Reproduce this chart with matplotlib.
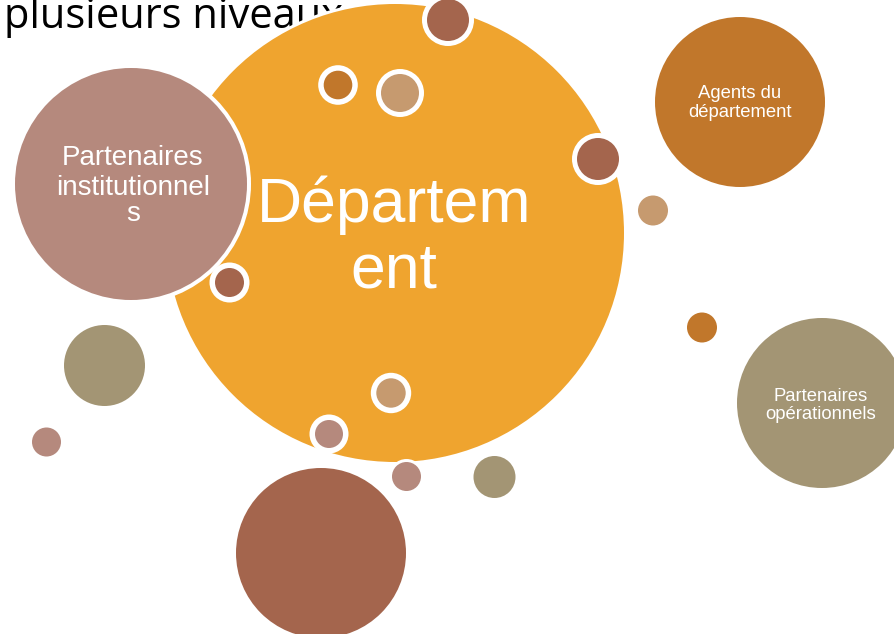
import matplotlib.pyplot as plt
from matplotlib.patches import Circle

# bubbles: centre x, centre y (pixels, y down), radius, colour, white rim width
ORANGE = "#EFA42F"
PINK = "#B5897D"
BROWN = "#A4654D"
RUST = "#C1772B"
TAN = "#C69A6F"
OLIVE = "#A39574"

bubble_x = [395, 131, 740, 822, 321, 104.5, 46.5, 494.5, 406.5, 653, 702,
            448, 338, 400, 598, 229.5, 391, 329]
bubble_y = [233, 184, 102, 403, 553, 365.5, 442, 477, 476.5, 210.5, 327.5,
            20, 85, 93, 159, 282.5, 393, 434]
bubble_r = [229, 116, 85, 85, 85, 40.5, 14.5, 21, 14.5, 15, 15,
            21, 14.3, 19, 21, 14.5, 14.7, 14]
bubble_c = [ORANGE, PINK, RUST, OLIVE, BROWN, OLIVE, PINK, OLIVE, PINK, TAN, RUST,
            BROWN, RUST, TAN, BROWN, BROWN, TAN, PINK]
bubble_rim = [3, 4, 3, 3, 3, 0, 0, 0, 3, 0, 0,
              5, 5.5, 5, 5, 5.5, 5.5, 5.5]

# labels: text lines with baseline positions
label_lines = ["Départem", "ent",
               "Partenaires", "institutionnel", "s",
               "Agents du", "département",
               "Partenaires", "opérationnels"]
label_x = [394, 394, 133, 133, 133, 740, 740, 821, 821]
label_y = [222, 287, 165, 195, 221, 98.3, 116.7, 400.7, 419]
label_size = [45, 45, 20, 20, 20, 13.3, 13.3, 13.3, 13.3]

title = "plusieurs niveaux"

fig = plt.figure(figsize=(8.94, 6.34), dpi=100)
ax = fig.add_axes([0, 0, 1, 1])
ax.set_xlim(0, 894)
ax.set_ylim(634, 0)
ax.axis("off")

# title sits behind the big bubble (cut at the top, as in the slide)
ax.text(4, 28, title, fontsize=30, family="Open Sans", color="black",
        ha="left", va="baseline", zorder=1)

for i, (x, y, r, c, rim) in enumerate(zip(bubble_x, bubble_y, bubble_r, bubble_c, bubble_rim)):
    z = 2 + (0 if i == 0 else 1 if i < 11 else 2)
    if rim > 0:
        ax.add_patch(Circle((x, y), r + rim, facecolor="white", edgecolor="none", zorder=z))
    ax.add_patch(Circle((x, y), r, facecolor=c, edgecolor="none", zorder=z))

for txt, x, y, s in zip(label_lines, label_x, label_y, label_size):
    ax.text(x, y, txt, fontsize=s, family="Liberation Sans", color="white",
            ha="center", va="baseline", zorder=6)

fig.savefig("out.png", dpi=100)
